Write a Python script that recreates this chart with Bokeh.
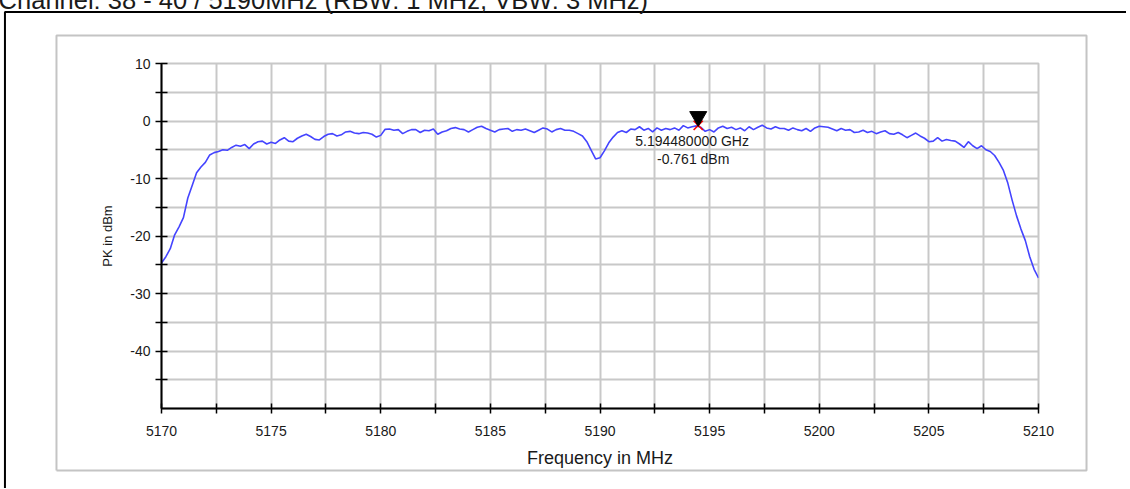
from bokeh.plotting import figure
from bokeh.models import Range1d, FixedTicker, Label
from bokeh.core.properties import value
from bokeh.embed import file_html
from bokeh.resources import INLINE
import numpy as np

title_text = "Channel: 38 - 40 / 5190MHz (RBW: 1 MHz, VBW: 3 MHz)"
x_label = "Frequency in MHz"
y_label = "PK in dBm"

f_start = 5170.0
f_step = 0.2
level_dbm = [
    -24.7, -23.6, -22.2, -19.8, -18.4, -16.8, -13.4, -11.2, -9.0, -8.0,
    -7.2, -5.9, -5.5, -5.3, -5.0, -5.1, -4.6, -4.2, -4.4, -4.1,
    -4.8, -4.0, -3.6, -3.5, -4.0, -3.7, -3.9, -3.3, -2.9, -3.5,
    -3.6, -3.0, -2.6, -2.3, -2.7, -3.2, -3.3, -2.7, -2.3, -2.2,
    -2.6, -2.4, -1.9, -1.8, -2.1, -2.2, -2.0, -2.1, -2.3, -2.8,
    -2.5, -1.45, -1.4, -1.6, -1.5, -2.2, -1.8, -1.5, -1.5, -2.0,
    -1.6, -1.7, -1.4, -2.3, -1.9, -1.7, -1.3, -1.15, -1.4, -1.5,
    -1.9, -1.5, -1.1, -0.9, -1.3, -1.6, -1.9, -1.5, -1.4, -1.3,
    -1.8, -1.5, -1.6, -1.4, -1.7, -2.0, -1.6, -1.2, -1.4, -1.9,
    -1.5, -1.3, -1.6, -1.6, -1.8, -2.2, -2.6, -3.6, -5.1, -6.6,
    -6.4, -5.2, -3.8, -2.8, -2.0, -1.7, -2.0, -1.4, -1.5, -1.0,
    -1.6, -1.3, -1.9, -1.2, -1.6, -1.3, -1.5, -1.2, -1.6, -0.8,
    -1.2, -1.0, -0.85, -1.1, -1.8, -1.5, -1.9, -1.2, -0.9, -1.3,
    -1.1, -1.5, -1.2, -1.7, -1.0, -1.5, -1.1, -0.75, -1.2, -1.4,
    -1.0, -1.3, -1.3, -1.6, -1.2, -1.5, -1.7, -1.3, -1.8, -1.2,
    -0.9, -1.0, -1.1, -1.4, -1.7, -1.3, -1.6, -1.5, -2.0, -1.9,
    -1.6, -2.0, -1.8, -2.2, -1.9, -1.7, -2.2, -2.3, -2.0, -2.4,
    -2.9, -2.5, -2.1, -2.6, -3.0, -3.6, -3.5, -2.9, -3.5, -3.2,
    -3.4, -3.5, -4.0, -4.6, -3.6, -4.3, -4.8, -4.3, -5.0, -5.3,
    -6.0, -7.2, -8.6, -10.8, -13.8, -16.5, -18.8, -20.8, -23.6, -25.8,
    -27.3,
]
freq_mhz = f_start + f_step * np.arange(len(level_dbm))

x_major = [5170, 5175, 5180, 5185, 5190, 5195, 5200, 5205, 5210]
x_minor = [5172.5, 5177.5, 5182.5, 5187.5, 5192.5, 5197.5, 5202.5, 5207.5]
y_major = [-40, -30, -20, -10, 0, 10]
y_minor = [-45, -35, -25, -15, -5, 5]

marker_freq_mhz = 5194.48
marker_level_dbm = -0.761
marker_freq_text = "5.194480000 GHz"
marker_level_text = "-0.761 dBm"

FONT = "Liberation Sans"
GRID = "#c8c8c8"

p = figure(width=1128, height=504, output_backend="svg", toolbar_location=None,
           x_range=Range1d(5170, 5210), y_range=Range1d(-50, 10),
           min_border_left=163, min_border_right=88,
           min_border_top=79, min_border_bottom=80,
           margin=(-16, -16, -16, -2))
p.background_fill_color = "white"
p.border_fill_color = "white"
p.outline_line_color = GRID
p.outline_line_width = 2

# outer frames, drawn on the overlay level so they are not clipped to the plot area
p.line([5162.86, 5162.86, 5222], [-90, 18.96, 18.96],
       line_color="black", line_width=2, level="overlay")
p.line([5165.21, 5165.21, 5212.19, 5212.19, 5165.21],
       [-60.78, 14.87, 14.87, -60.78, -60.78],
       line_color="#c4c4c4", line_width=2, level="overlay")

# axes
p.xaxis.ticker = FixedTicker(ticks=x_major, minor_ticks=x_minor)
p.yaxis.ticker = FixedTicker(ticks=y_major, minor_ticks=y_minor)
p.yaxis.major_label_overrides = {v: str(v) for v in y_major}
p.xaxis.major_label_overrides = {v: str(v) for v in x_major}
for ax in (p.xaxis[0], p.yaxis[0]):
    ax.axis_line_color = "black"
    ax.axis_line_width = 2
    ax.major_tick_line_color = "black"
    ax.minor_tick_line_color = "black"
    ax.major_tick_line_width = 1.5
    ax.minor_tick_line_width = 1.5
    ax.major_label_text_font = FONT
    ax.major_label_text_font_size = "14px"
    ax.major_label_text_color = "#1a1a1a"
    ax.axis_label_text_font = FONT
    ax.axis_label_text_font_style = "normal"
    ax.axis_label_text_color = "#1a1a1a"
p.xaxis.major_tick_in = 5
p.xaxis.major_tick_out = 5
p.xaxis.minor_tick_in = 5
p.xaxis.minor_tick_out = 5
p.yaxis.major_tick_in = 6
p.yaxis.major_tick_out = 6
p.yaxis.minor_tick_in = 6
p.yaxis.minor_tick_out = 6
p.xaxis.axis_label = x_label
p.yaxis.axis_label = y_label
p.xaxis.axis_label_text_font_size = "18px"
p.yaxis.axis_label_text_font_size = "13px"
p.xaxis.major_label_standoff = 12
p.xaxis.axis_label_standoff = 9
p.yaxis.major_label_standoff = 5
p.yaxis.axis_label_standoff = 12

for g in (p.xgrid[0], p.ygrid[0]):
    g.grid_line_color = GRID
    g.grid_line_width = 2
    g.minor_grid_line_color = GRID
    g.minor_grid_line_width = 2

# trace
p.line(freq_mhz, level_dbm, line_color="#4444ff", line_width=1.6)

# marker
p.scatter([marker_freq_mhz], [marker_level_dbm], marker="x", size=13,
          line_color="red", line_width=1.6)
p.scatter([marker_freq_mhz], [0.78], marker="inverted_triangle", size=17,
          fill_color="black", line_color="black")
p.add_layout(Label(x=5194.2, y=-3.54, text=marker_freq_text, text_align="center",
                   text_baseline="middle", text_font=FONT, text_font_size="14px",
                   text_color="#1a1a1a"))
p.add_layout(Label(x=5194.25, y=-6.67, text=marker_level_text, text_align="center",
                   text_baseline="middle", text_font=FONT, text_font_size="14px",
                   text_color="#1a1a1a"))

# title: only its lower part lies on the page, as in the reference
p.text(x=[5162.57], y=[21.13], text=[title_text], text_align="left",
       text_baseline="alphabetic", text_font=value(FONT),
       text_font_size=value("25.5px"), text_color="#1a1a1a", level="overlay")

open("out.html", "w").write(file_html(p, INLINE))
